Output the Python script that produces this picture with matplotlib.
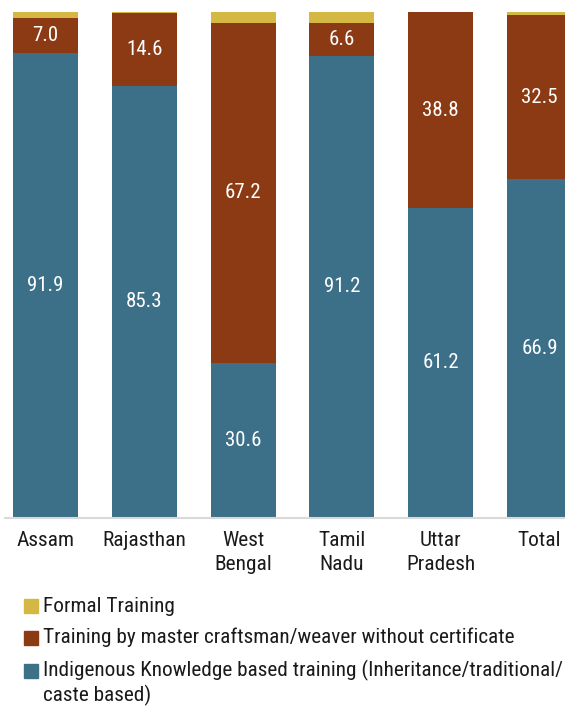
import matplotlib
matplotlib.use("Agg")
import matplotlib.pyplot as plt
from matplotlib.patches import Rectangle
import numpy as np

plt.rcParams['font.family'] = ['Roboto Condensed', 'DejaVu Sans']

states = ["Assam", "Rajasthan", "West\nBengal", "Tamil\nNadu", "Uttar\nPradesh", "Total"]
indigenous = [91.9, 85.3, 30.6, 91.2, 61.2, 66.9]
master = [7.0, 14.6, 67.2, 6.6, 38.8, 32.5]
formal = [1.1, 0.1, 2.2, 2.2, 0.0, 0.6]

series_names = [
    "Indigenous Knowledge based training (Inheritance/traditional/\ncaste based)",
    "Training by master craftsman/weaver without certificate",
    "Formal Training",
]
colors = ["#3C6F88", "#8B3A14", "#D4B843"]

W, H = 565, 706
fig = plt.figure(figsize=(W / 100, H / 100), dpi=100)
# axes runs a little past the right edge, so the last bar is clipped
ax = fig.add_axes([5 / W, 1 - 517.5 / H, 575 / W, 505.5 / H])

x = np.arange(len(states))
bottom = np.zeros(len(states))
for vals, col in zip([indigenous, master, formal], colors):
    vals = np.array(vals)
    ax.bar(x, vals, width=0.658, bottom=bottom, color=col, linewidth=0)
    if col != colors[2]:
        for xi, b, v in zip(x, bottom, vals):
            ax.text(xi, b + v / 2, f"{v:.1f}", ha="center", va="center",
                    color="white", fontsize=15)
    bottom += vals

ax.set_xlim(-0.41, len(states) - 1 + 0.41)
ax.set_ylim(0, 100)
ax.set_xticks(x)
ax.set_xticklabels(states, fontsize=15.4, linespacing=1.3, color="#1a1a1a")
ax.tick_params(axis="x", length=0, pad=10)
ax.set_yticks([])
for s in ["top", "right", "left"]:
    ax.spines[s].set_visible(False)
ax.spines["bottom"].set_color("#d9d9d9")
ax.spines["bottom"].set_linewidth(1.5)

# legend drawn by hand: formal first, then master, then indigenous
baselines = [611.5, 643, 676.5]
for name, col, yb in zip(series_names[::-1], colors[::-1], baselines):
    fig.patches.append(Rectangle((24 / W, 1 - (yb + 1.5) / H), 14 / W, 14 / H,
                                 transform=fig.transFigure, color=col))
    for k, line in enumerate(name.split("\n")):
        fig.text(43 / W, 1 - (yb + 25 * k) / H, line, ha="left", va="baseline",
                 fontsize=15.3, color="#1a1a1a")

fig.savefig("out.png", dpi=100)
